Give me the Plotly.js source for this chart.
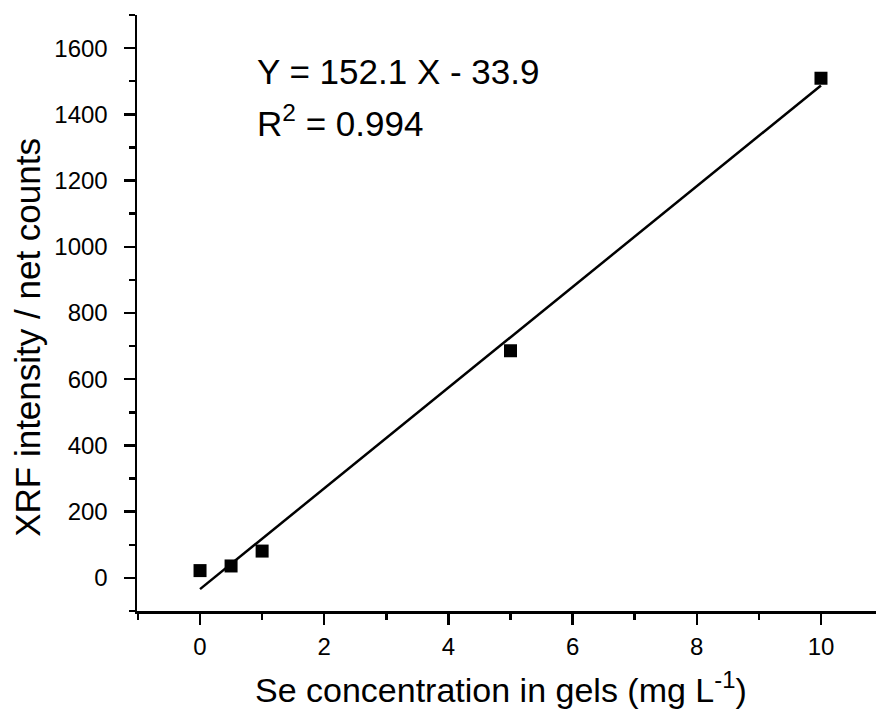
<!DOCTYPE html>
<html>
<head>
<meta charset="utf-8">
<script src="https://cdn.plot.ly/plotly-3.0.1.min.js"></script>
<style>html,body{margin:0;padding:0;background:#fff;}#chart{width:876px;height:717px;}</style>
</head>
<body>
<div id="chart"></div>
<script>
// Measured data
const concentration = [0, 0.5, 1, 5, 10];
const intensity = [22, 36, 81, 686, 1509];
// Linear fit line shown in chart (Y = 152.1 X - 33.9)
const fitX = [0, 10];
const fitY = [-33.9, 1487.1];
const xTicks = [0, 2, 4, 6, 8, 10];
const yTicks = [0, 200, 400, 600, 800, 1000, 1200, 1400, 1600];
const eqText = 'Y = 152.1 X - 33.9';
const r2Text = 'R<sup>2</sup> = 0.994';
const xTitle = 'Se concentration in gels (mg L<sup>-1</sup>)';
const yTitle = 'XRF intensity / net counts';

const FONT = 'Liberation Sans, Arial, sans-serif';

const traces = [
  {
    x: fitX, y: fitY, mode: 'lines', type: 'scatter',
    line: {color: '#000', width: 2.5}, hoverinfo: 'skip', showlegend: false
  },
  {
    x: concentration, y: intensity, mode: 'markers', type: 'scatter',
    marker: {symbol: 'square', size: 13, color: '#000'}, showlegend: false
  }
];

const layout = {
  width: 876, height: 717,
  margin: {l: 137, r: 0, t: 15, b: 106},
  paper_bgcolor: '#fff', plot_bgcolor: '#fff',
  font: {family: FONT, color: '#000'},
  xaxis: {
    range: [-1.015, 10.886],
    tickvals: xTicks, ticktext: xTicks.map(String),
    ticks: 'outside', ticklen: 11, tickwidth: 2.5, tickcolor: '#000',
    minor: {dtick: 1, tick0: 0, ticks: 'outside', ticklen: 6, tickwidth: 2.5, tickcolor: '#000'},
    showline: true, linewidth: 2.5, linecolor: '#000',
    showgrid: false, zeroline: false,
    tickfont: {size: 24, family: FONT, color: '#000'},
    ticklabelstandoff: 2
  },
  yaxis: {
    range: [-100, 1700],
    tickvals: yTicks, ticktext: yTicks.map(String),
    ticks: 'outside', ticklen: 11, tickwidth: 2.5, tickcolor: '#000',
    minor: {dtick: 100, tick0: 0, ticks: 'outside', ticklen: 6, tickwidth: 2.5, tickcolor: '#000'},
    showline: true, linewidth: 2.5, linecolor: '#000',
    showgrid: false, zeroline: false,
    tickfont: {size: 24, family: FONT, color: '#000'},
    ticklabelstandoff: 11
  },
  annotations: [
    {xref: 'paper', yref: 'paper', x: 0.160, y: 0.905, xanchor: 'left', yanchor: 'middle',
     text: eqText, showarrow: false, font: {size: 35, family: FONT, color: '#000'}},
    {xref: 'paper', yref: 'paper', x: 0.160, y: 0.822, xanchor: 'left', yanchor: 'middle',
     text: r2Text, showarrow: false, font: {size: 35, family: FONT, color: '#000'}},
    {xref: 'paper', yref: 'paper', x: 0.157, y: -0.128, xanchor: 'left', yanchor: 'middle',
     text: xTitle, showarrow: false, font: {size: 34, family: FONT, color: '#000'}},
    {xref: 'paper', yref: 'paper', x: -0.1475, y: 0.46, xanchor: 'center', yanchor: 'middle', textangle: -90,
     text: yTitle, showarrow: false, font: {size: 35, family: FONT, color: '#000'}}
  ]
};

Plotly.newPlot('chart', traces, layout, {displayModeBar: false, staticPlot: true});
</script>
</body>
</html>
